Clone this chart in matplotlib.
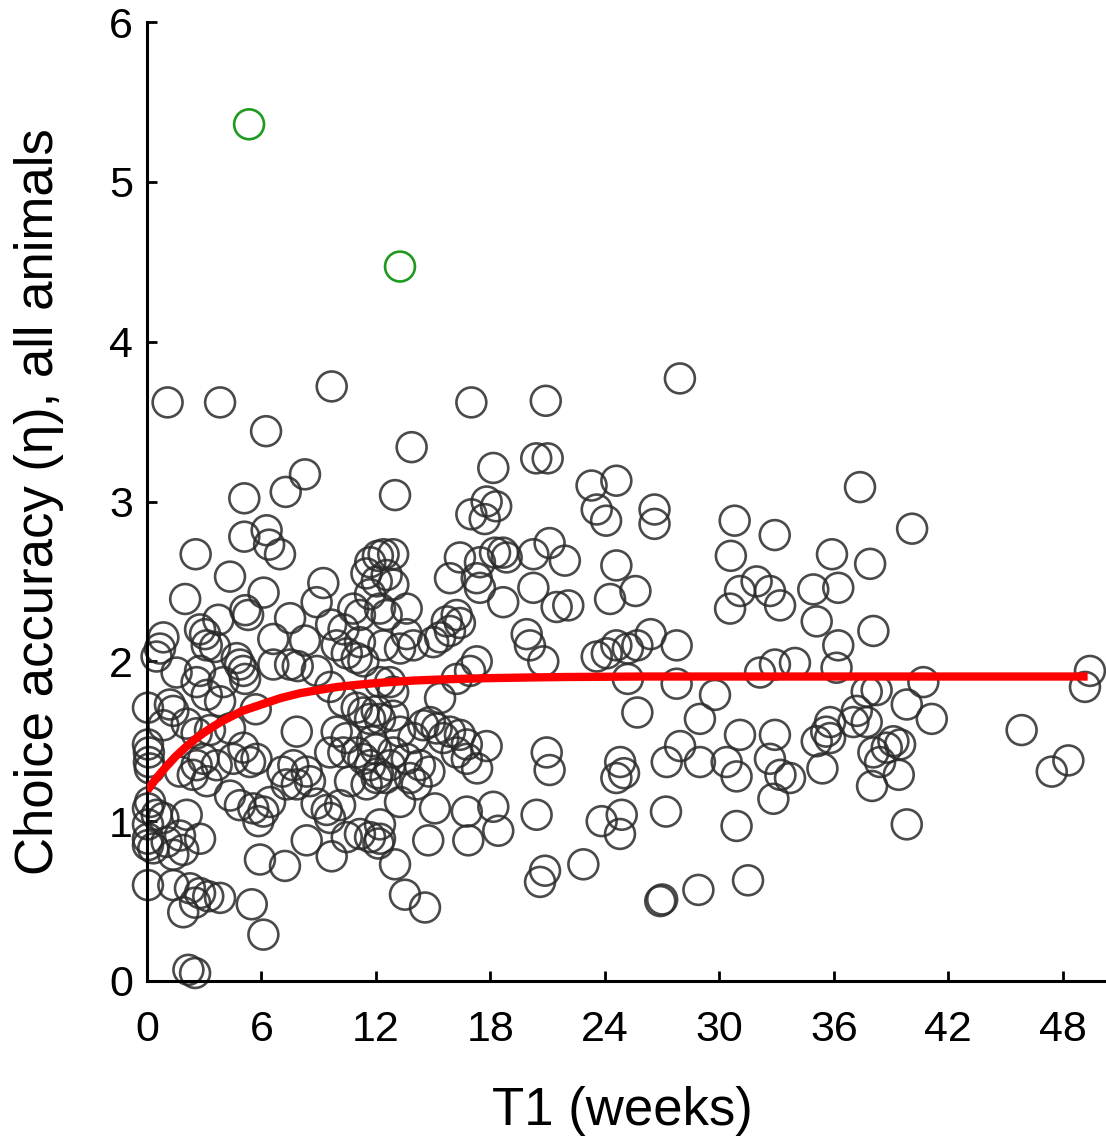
import matplotlib
matplotlib.use("Agg")
import matplotlib.pyplot as plt
import numpy as np

# ---- data ----
t1_weeks = [
    1.08, 3.83, 9.68, 6.24, 8.28, 7.27, 5.10, 5.10, 6.27, 6.40, 6.97, 2.55, 4.35, 9.24,
    11.5, 11.7, 12.1, 12.4, 12.9,
    17.0, 20.9, 13.87, 18.15, 20.4, 21.0, 13.0, 23.3, 24.6, 23.57, 24.06, 17.8, 18.3, 17.0, 17.7,
    21.1, 21.9, 24.6, 20.25, 18.66, 18.85, 18.24, 17.45, 16.4,
    27.93, 37.37, 26.6, 26.6, 30.8, 32.9, 30.6, 35.9, 37.9, 40.1,
    2.0, 6.11, 5.15, 5.3, 3.74, 7.5, 8.89, 9.65, 10.3,
    10.81, 11.16, 11.69, 12.04, 11.16, 9.94, 10.47, 10.99, 11.34, 12.39,
    0.86, 0.68, 0.5,
    2.78, 3.04, 3.13, 3.56, 6.62, 8.28,
    4.70, 4.87, 5.05, 5.14, 6.62, 7.5, 7.9, 8.9, 1.55, 2.78, 2.6, 4.0, 5.7, 9.6,
    0.05, 1.2, 1.38, 0.86, 2.08, 2.6, 3.3, 4.35, 7.85,
    10.29, 10.99, 11.34, 11.69, 12.04,
    9.94, 10.46, 10.29, 11.0, 11.34, 11.69, 12.1, 12.0, 11.8,
    0.05, 0.1, 0.1, 0.15,
    1.73, 2.6, 2.95, 3.65, 4.52, 5.05, 5.4, 5.74, 7.67, 7.1, 8.37, 9.6, 3.13, 3.83,
    15.88, 17.28, 17.45, 18.67, 20.25, 21.47, 22.08, 24.27, 25.6,
    12.56, 12.91, 13.61, 12.21, 12.56,
    15.71, 16.23, 15.88, 15.36, 16.4,
    13.61, 13.96, 13.26, 15.0,
    19.9, 20.07, 20.77,
    23.57, 24.1, 24.6, 25.2, 25.7, 26.4,
    25.2, 25.7,
    17.28, 16.93, 16.23,
    12.74, 12.21, 12.9, 15.36, 12.9, 12.21,
    14.83, 14.48, 15.18, 15.88, 16.4, 15.53,
    16.76, 16.23, 16.76, 17.3, 17.8,
    13.26, 13.96, 12.91, 13.61, 14.3, 12.74, 14.8,
    20.95, 21.1,
    24.8, 25.0, 24.6,
    31.95, 31.08, 32.65, 30.56, 33.18, 34.92, 36.23, 35.1, 38.07, 36.23, 36.14,
    27.76, 27.76, 32.13, 32.91, 33.96, 29.77, 28.98,
    37.72, 38.24, 37.2, 37.02, 37.72,
    35.8, 35.6, 35.1, 35.8, 31.08, 32.91,
    27.94, 27.24, 28.98, 30.38, 30.9, 32.65, 33.2, 33.7, 35.4, 38.07, 38.42, 38.0,
    40.69, 39.82, 41.13, 45.84, 49.42, 49.16, 39.12, 38.77, 39.47, 39.4, 48.29, 47.42,
    0.16, 0.05, 0.51, 0.05, 0.86, 2.08, 0.05, 0.05, 0.33, 1.03, 1.73, 2.78, 1.38, 1.9,
    0.05, 1.38, 2.25, 2.78, 3.21, 3.83, 1.9, 2.52, 5.49, 6.1, 2.17, 2.52,
    5.92, 7.23, 8.37, 9.68, 10.47, 11.16, 11.69, 12.13,
    8.89, 9.42, 10.12, 9.59, 4.35, 4.87, 5.57, 5.84, 6.1, 6.45,
    7.32, 7.85, 8.54, 10.64, 11.51, 12.04, 3.13, 2.4,
    13.26, 14.13, 13.78, 15.09, 16.76, 18.15, 14.74, 16.84, 18.41, 20.42,
    12.21, 12.21, 13.0, 13.52, 14.57, 20.86, 20.6, 22.87, 23.83, 24.88, 24.79, 12.5,
    32.83, 27.2, 30.9, 26.9, 27.0, 28.9, 31.5, 39.82,
]
accuracy = [
    3.62, 3.62, 3.72, 3.44, 3.17, 3.06, 3.02, 2.78, 2.82, 2.73, 2.67, 2.67, 2.53, 2.49,
    2.55, 2.62, 2.66, 2.67, 2.67,
    3.62, 3.63, 3.34, 3.21, 3.27, 3.27, 3.04, 3.10, 3.13, 2.95, 2.88, 3.00, 2.97, 2.92, 2.89,
    2.74, 2.63, 2.60, 2.67, 2.68, 2.65, 2.68, 2.62, 2.65,
    3.77, 3.09, 2.95, 2.86, 2.88, 2.79, 2.66, 2.67, 2.61, 2.83,
    2.39, 2.43, 2.32, 2.29, 2.26, 2.27, 2.37, 2.23, 2.20,
    2.33, 2.29, 2.42, 2.50, 2.12, 2.10, 2.05, 2.02, 2.00, 2.10,
    2.15, 2.08, 2.03,
    2.20, 2.17, 2.10, 2.09, 2.14, 2.13,
    2.02, 1.98, 1.94, 1.89, 1.98, 1.98, 1.97, 1.94, 1.93, 1.94, 1.87, 1.87, 1.70, 1.84,
    1.71, 1.73, 1.69, 1.60, 1.61, 1.55, 1.57, 1.58, 1.56,
    1.75, 1.71, 1.68, 1.64, 1.69,
    1.56, 1.52, 1.43, 1.43, 1.39, 1.35, 1.30, 1.45, 1.50,
    1.48, 1.43, 1.37, 1.33,
    1.31, 1.35, 1.39, 1.35, 1.39, 1.46, 1.37, 1.39, 1.35, 1.31, 1.31, 1.43, 1.79, 1.75,
    2.52, 2.52, 2.46, 2.37, 2.46, 2.34, 2.35, 2.39, 2.44,
    2.54, 2.48, 2.33, 2.33, 2.29,
    2.25, 2.29, 2.19, 2.15, 2.24,
    2.17, 2.10, 2.08, 2.12,
    2.17, 2.10, 2.00,
    2.03, 2.05, 2.10, 2.08, 2.10, 2.17,
    1.89, 1.68,
    2.00, 1.94, 1.89,
    1.87, 1.87, 1.81, 1.77, 1.66, 1.64,
    1.62, 1.60, 1.58, 1.56, 1.54, 1.52,
    1.48, 1.43, 1.39, 1.33, 1.47,
    1.56, 1.52, 1.43, 1.39, 1.35, 1.35, 1.31,
    1.43, 1.32,
    1.37, 1.30, 1.27,
    2.50, 2.44, 2.44, 2.33, 2.35, 2.45, 2.46, 2.25, 2.19, 2.10, 1.96,
    2.10, 1.86, 1.93, 1.98, 1.99, 1.79, 1.64,
    1.81, 1.82, 1.69, 1.62, 1.62,
    1.62, 1.56, 1.50, 1.52, 1.54, 1.54,
    1.47, 1.37, 1.37, 1.37, 1.28, 1.39, 1.29, 1.27, 1.33, 1.43, 1.37, 1.22,
    1.87, 1.73, 1.64, 1.57, 1.94, 1.84, 1.50, 1.46, 1.48, 1.29, 1.38, 1.31,
    1.12, 1.08, 1.04, 0.98, 1.02, 1.04, 0.89, 0.85, 0.83, 0.87, 0.91, 0.89, 0.79, 0.82,
    0.60, 0.60, 0.58, 0.55, 0.53, 0.52, 0.43, 0.49, 0.48, 0.29, 0.07, 0.05,
    0.76, 0.72, 0.88, 0.78, 0.90, 0.92, 0.90, 0.86,
    1.11, 1.07, 1.10, 1.02, 1.16, 1.10, 1.08, 1.00, 1.06, 1.12,
    1.23, 1.23, 1.25, 1.25, 1.23, 1.27, 1.25, 1.29,
    1.12, 1.23, 1.27, 1.08, 1.06, 1.09, 0.88, 0.88, 0.94, 1.04,
    0.98, 0.89, 0.73, 0.54, 0.46, 0.69, 0.62, 0.73, 1.00, 1.04, 0.92, 1.27,
    1.14, 1.06, 0.97, 0.50, 0.51, 0.57, 0.63, 0.98,
]

outlier_weeks = [5.35, 13.26]
outlier_accuracy = [5.36, 4.47]

fit_weeks = [0, 0.5, 1, 1.5, 2, 2.5, 3, 3.5, 4, 5, 6, 7, 8, 9, 10, 11, 12, 14, 16, 18,
             20, 22, 26, 30, 36, 42, 49.3]
fit_accuracy = [1.19, 1.27, 1.34, 1.405, 1.46, 1.511, 1.555, 1.594, 1.63, 1.69, 1.73,
                1.77, 1.80, 1.821, 1.84, 1.853, 1.864, 1.88, 1.889, 1.895,
                1.899, 1.902, 1.905, 1.905, 1.905, 1.905, 1.905]

x_ticks = [0, 6, 12, 18, 24, 30, 36, 42, 48]
y_ticks = [0, 1, 2, 3, 4, 5, 6]

plt.rcParams['font.family'] = ['Liberation Sans', 'DejaVu Sans']

fig = plt.figure(figsize=(11.06, 11.42), dpi=100)
ax = fig.add_axes([147/1106, 1 - 981/1142, (1105 - 147)/1106, (981 - 22)/1142])

ax.scatter(t1_weeks, accuracy, s=21.5**2, facecolors='none', edgecolors='#2a2a2a',
           linewidths=1.9, alpha=0.85, clip_on=False, zorder=2)
ax.scatter(outlier_weeks, outlier_accuracy, s=21.5**2, facecolors='none',
           edgecolors='#1e9a1e', linewidths=1.9, clip_on=False, zorder=2)
ax.plot(fit_weeks, fit_accuracy, color='red', lw=6, solid_capstyle='butt',
        solid_joinstyle='round', zorder=3)

ax.set_xlim(0, (1105 - 147) / 19.08)
ax.set_ylim(0, 6)
ax.set_xticks(x_ticks)
ax.set_yticks(y_ticks)

for s in ['top', 'right']:
    ax.spines[s].set_visible(False)
for s in ['left', 'bottom']:
    ax.spines[s].set_linewidth(2.2)

ax.tick_params(axis='both', direction='in', length=7, width=2, labelsize=31)
ax.tick_params(axis='x', pad=21)
ax.tick_params(axis='y', pad=10)

ax.set_xlabel('T1 (weeks)', fontsize=38)
ax.set_ylabel('Choice accuracy (η), all animals', fontsize=38)
ax.xaxis.set_label_coords(0.496, -0.11)
ax.yaxis.set_label_coords(-0.087, 0.5)

fig.savefig('out.png', dpi=100)
